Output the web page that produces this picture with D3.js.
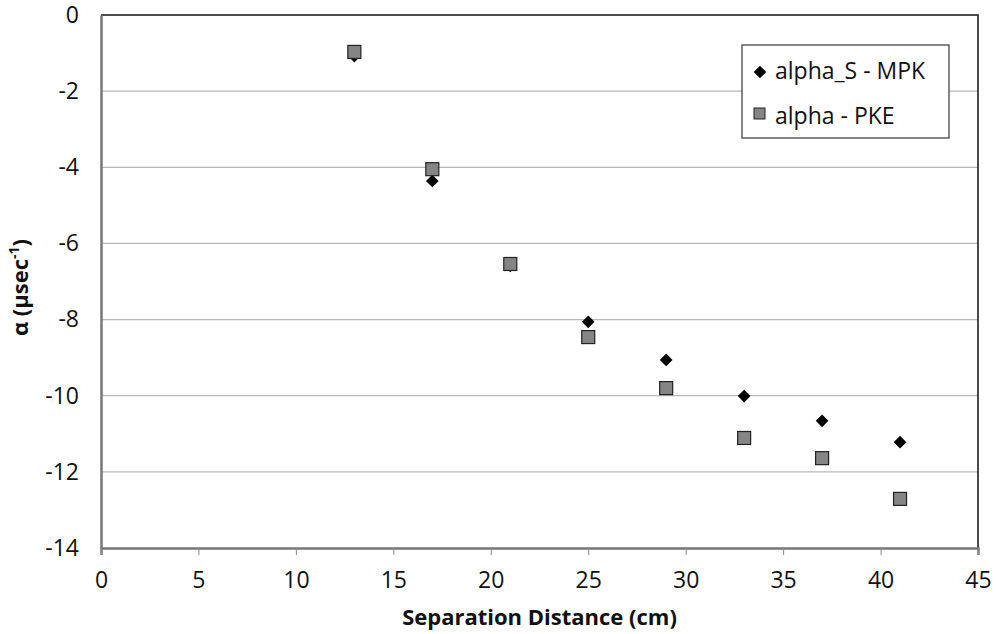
<!DOCTYPE html>
<html>
<head>
<meta charset="utf-8">
<script src="https://cdn.jsdelivr.net/npm/d3@7"></script>
<style>
  body { margin: 0; background: #fff; }
  text { font-family: "Open Sans", "Liberation Sans", sans-serif; fill: #111; }
  .axis text { font-size: 23px; }
</style>
</head>
<body>
<svg width="996" height="634"></svg>
<script>
var distances = [13, 17, 21, 25, 29, 33, 37, 41];
var alphaS_MPK = [-1.08, -4.36, -6.59, -8.06, -9.06, -10.01, -10.66, -11.22];
var alpha_PKE = [-0.97, -4.05, -6.54, -8.46, -9.80, -11.11, -11.64, -12.71];
var xTicks = [0, 5, 10, 15, 20, 25, 30, 35, 40, 45];
var yTicks = [0, -2, -4, -6, -8, -10, -12, -14];

var svg = d3.select("svg");
var mLeft = 101, mRight = 978, mTop = 15, mBottom = 548;

var x = d3.scaleLinear().domain([0, 45]).range([mLeft, mRight]);
var y = d3.scaleLinear().domain([-14, 0]).range([mBottom, mTop]);

// gridlines
svg.append("g")
    .selectAll("line")
    .data(yTicks.filter(function(d) { return d != -14 && d != 0; }))
    .enter().append("line")
    .attr("x1", mLeft).attr("x2", mRight)
    .attr("y1", function(d) { return y(d); })
    .attr("y2", function(d) { return y(d); })
    .attr("stroke", "#b8b8b8")
    .attr("stroke-width", 1.3);

// top + right border
svg.append("path")
    .attr("d", "M" + mLeft + "," + mTop + "H" + mRight + "V" + mBottom)
    .attr("fill", "none")
    .attr("stroke", "#111")
    .attr("stroke-width", 1.5);

// x axis
var xAxis = svg.append("g")
    .attr("class", "axis")
    .attr("transform", "translate(0," + mBottom + ")")
    .call(d3.axisBottom(x).tickValues(xTicks).tickSize(7).tickPadding(17));
xAxis.attr("font-size", 23);
xAxis.select(".domain").attr("stroke", "#777").attr("stroke-width", 2.5);
xAxis.selectAll(".tick line").attr("stroke", "#888").attr("stroke-width", 1);
xAxis.selectAll("text").attr("fill", "#111");

// y axis
var yAxis = svg.append("g")
    .attr("class", "axis")
    .attr("transform", "translate(" + mLeft + ",0)")
    .call(d3.axisLeft(y).tickValues(yTicks).tickSize(0).tickPadding(22)
      .tickFormat(function(d) { return d === 0 ? "0" : "-" + Math.abs(d); }));
yAxis.attr("font-size", 23);
yAxis.select(".domain").attr("stroke", "#777").attr("stroke-width", 2.5);
yAxis.selectAll("text").attr("fill", "#111");

// axis titles
svg.append("text")
    .attr("x", (mLeft + mRight) / 2)
    .attr("y", 625)
    .attr("text-anchor", "middle")
    .style("font-size", "22px")
    .attr("font-weight", "bold")
    .text("Separation Distance (cm)");

var yt = svg.append("text")
    .attr("transform", "translate(28," + (y(-7) + 6) + ") rotate(-90)")
    .attr("text-anchor", "middle")
    .style("font-size", "22px")
    .attr("font-weight", "bold");
yt.append("tspan").text("α (µsec");
yt.append("tspan").style("font-size", "14px").attr("dy", -9).text("-1");
yt.append("tspan").attr("dy", 9).text(")");

// series
var diamond = d3.symbol().type(d3.symbolSquare).size(80);

svg.append("g")
    .selectAll("path")
    .data(distances.map(function(d, i) { return [d, alphaS_MPK[i]]; }))
    .enter().append("path")
    .attr("d", diamond)
    .attr("transform", function(d) { return "translate(" + x(d[0]) + "," + y(d[1]) + ") rotate(45)"; })
    .attr("fill", "#000");

svg.append("g")
    .selectAll("rect")
    .data(distances.map(function(d, i) { return [d, alpha_PKE[i]]; }))
    .enter().append("rect")
    .attr("x", function(d) { return x(d[0]) - 6.5; })
    .attr("y", function(d) { return y(d[1]) - 6.5; })
    .attr("width", 13).attr("height", 13)
    .attr("fill", "#858585")
    .attr("stroke", "#222")
    .attr("stroke-width", 1.2);

// legend
var lg = svg.append("g").attr("transform", "translate(742,45)");
lg.append("rect").attr("width", 207).attr("height", 93)
    .attr("fill", "#fff").attr("stroke", "#444").attr("stroke-width", 1.3);
lg.append("path").attr("d", diamond).attr("transform", "translate(18,27) rotate(45)").attr("fill", "#000");
lg.append("text").attr("x", 33).attr("y", 34).style("font-size", "23px").text("alpha_S - MPK");
lg.append("rect").attr("x", 12).attr("y", 63).attr("width", 11).attr("height", 11)
    .attr("fill", "#858585").attr("stroke", "#222").attr("stroke-width", 1);
lg.append("text").attr("x", 33).attr("y", 79).style("font-size", "23px").text("alpha - PKE");
</script>
</body>
</html>
